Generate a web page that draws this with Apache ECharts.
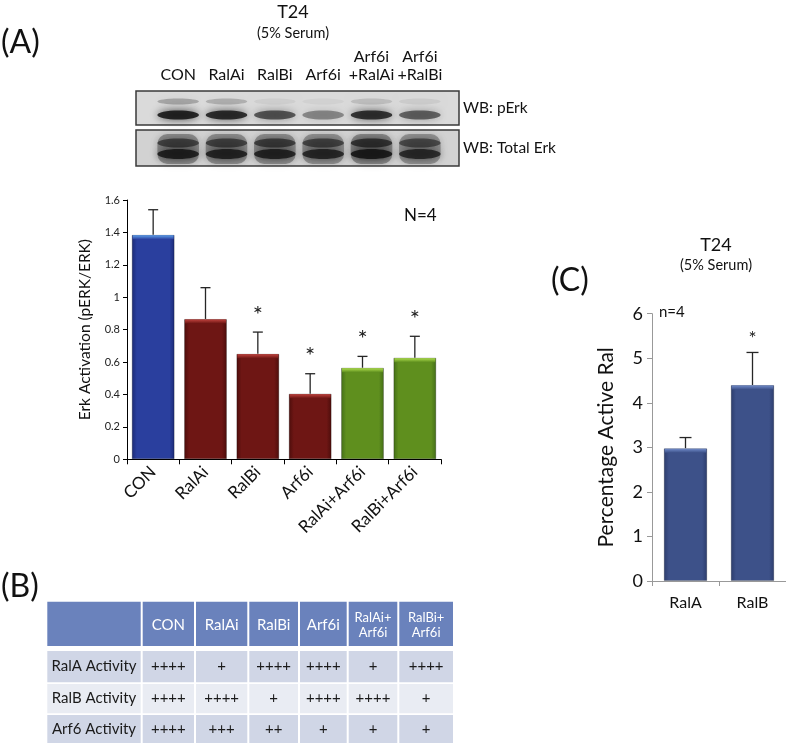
<!DOCTYPE html>
<html>
<head>
<meta charset="utf-8">
<script src="https://cdn.jsdelivr.net/npm/echarts@6/dist/echarts.min.js"></script>
<style>
html,body{margin:0;padding:0;background:#fff;}
#chart{width:786px;height:745px;}
</style>
</head>
<body>
<div id="chart"></div>
<script>
// ---------- DATA ----------
const blotLanes = ['CON', 'RalAi', 'RalBi', 'Arf6i', 'Arf6i\n+RalAi', 'Arf6i\n+RalBi'];
const pErkUpperBand = [0.55, 0.45, 0.12, 0.10, 0.30, 0.15];
const pErkLowerBand = [1.00, 0.95, 0.72, 0.45, 0.92, 0.65];
const totalErkUpperBand = [0.80, 0.80, 0.85, 0.80, 0.95, 0.75];
const totalErkLowerBand = [0.95, 0.92, 0.92, 0.88, 1.00, 0.86];

const catsA = ['CON', 'RalAi', 'RalBi', 'Arf6i', 'RalAi+Arf6i', 'RalBi+Arf6i'];
const erkMean = [1.385, 0.866, 0.651, 0.405, 0.565, 0.627];
const erkErrTop = [1.54, 1.059, 0.785, 0.528, 0.635, 0.759];
const erkSig = [false, false, true, true, true, true];
const erkGroup = ['blue', 'red', 'red', 'red', 'green', 'green'];
const yTicksA = [0, 0.2, 0.4, 0.6, 0.8, 1, 1.2, 1.4, 1.6];

const catsC = ['RalA', 'RalB'];
const ralMean = [2.98, 4.40];
const ralErrTop = [3.22, 5.13];
const ralSig = [false, true];
const yTicksC = [0, 1, 2, 3, 4, 5, 6];

const tableHeader = ['', 'CON', 'RalAi', 'RalBi', 'Arf6i', 'RalAi+\nArf6i', 'RalBi+\nArf6i'];
const tableRowNames = ['RalA Activity', 'RalB Activity', 'Arf6 Activity'];
const ralAActivity = ['++++', '+', '++++', '++++', '+', '++++'];
const ralBActivity = ['++++', '++++', '+', '++++', '++++', '+'];
const arf6Activity = ['++++', '+++', '++', '+', '+', '+'];

// ---------- STYLE ----------
const FONT = 'Lato, "Open Sans", "Noto Sans", sans-serif';
const palette = {
  blue:  {edge: '#1b2a76', mid: '#2a3f9e', hi: '#5e9ee8'},
  red:   {edge: '#4c0d0b', mid: '#6e1614', hi: '#c0423d'},
  green: {edge: '#436e18', mid: '#5f8f1e', hi: '#aede4e'},
  navy:  {edge: '#2c3c6c', mid: '#3d5189', hi: '#6f8ac8'}
};
function barGrad(p) {
  return {type: 'linear', x: 0, y: 0, x2: 1, y2: 0, colorStops: [
    {offset: 0, color: p.edge}, {offset: 0.12, color: p.mid},
    {offset: 0.88, color: p.mid}, {offset: 1, color: p.edge}]};
}

const chart = echarts.init(document.getElementById('chart'), null, {renderer: 'canvas'});

// blot band renderer
function renderBlot(params, api) {
  const i = api.value(0);
  const cs = params.coordSys;
  const cx = api.coord([i, 0])[0];
  const w = api.size([1, 0])[0];
  const rx = w * 0.43;
  const top = cs.y;
  const kids = [];
  const band = (cy, ry, a, blur) => ({
    type: 'ellipse',
    shape: {cx: cx, cy: cy, rx: rx, ry: ry},
    style: {fill: 'rgba(15,15,15,' + a + ')', shadowBlur: blur, shadowColor: 'rgba(15,15,15,' + a + ')'}
  });
  // total erk lane smear
  kids.push({type: 'rect', shape: {x: cx - rx, y: top + 43, width: rx * 2, height: 30, r: 10},
    style: {fill: 'rgba(40,40,40,' + (0.4 * api.value(4)) + ')', shadowBlur: 8, shadowColor: 'rgba(40,40,40,0.35)'}});
  kids.push(band(top + 10.5, 3, 0.45 * api.value(1), 7));
  kids.push(band(top + 24, 4.5, 0.85 * api.value(2), 8));
  kids.push(band(top + 52, 4.5, 0.7 * api.value(3), 8));
  kids.push(band(top + 63, 5, 0.85 * api.value(4), 8));
  return {type: 'group', children: kids};
}

function makeErr(groups, capW, hiH, starGap, starSize) {
  return function (params, api, ratio) {
    const i = api.value(0);
    const pMean = api.coord([i, api.value(1)]);
    const pTop = api.coord([i, api.value(2)]);
    const bw = api.size([1, 0])[0];
    const kids = [];
    const g = palette[groups[i]];
    const barW = bw * ratio;
    kids.push({type: 'rect', shape: {x: pMean[0] - barW / 2 + 1, y: pMean[1] + 0.5, width: barW - 2, height: hiH},
      style: {fill: {type: 'linear', x: 0, y: 0, x2: 0, y2: 1, colorStops: [
        {offset: 0, color: g.hi}, {offset: 1, color: g.mid}]}}, z2: 5});
    kids.push({type: 'line', shape: {x1: pMean[0], y1: pMean[1], x2: pTop[0], y2: pTop[1]},
      style: {stroke: '#262626', lineWidth: 1.3}});
    kids.push({type: 'line', shape: {x1: pTop[0] - capW / 2, y1: pTop[1], x2: pTop[0] + capW / 2, y2: pTop[1]},
      style: {stroke: '#262626', lineWidth: 1.3}});
    if (api.value(3)) {
      kids.push({type: 'text', style: {text: '*', x: pTop[0], y: pTop[1] - starGap, align: 'center', verticalAlign: 'middle',
        font: starSize + 'px ' + FONT, fill: '#222'}});
    }
    return {type: 'group', children: kids};
  };
}

const errAData = catsA.map((c, i) => [i, erkMean[i], erkErrTop[i], erkSig[i] ? 1 : 0]);
const errCData = catsC.map((c, i) => [i, ralMean[i], ralErrTop[i], ralSig[i] ? 1 : 0]);
const groupsC = catsC.map(() => 'navy');

const rendA = makeErr(erkGroup, 10, 4, 17, 24);
const rendC = makeErr(groupsC, 12, 4, 14, 19);

// ---------- TABLE (graphic) ----------
const colEdges = [47.3, 141.7, 195, 248.3, 299, 347.7, 398.3, 454];
const rowEdges = [[601.7, 646], [651, 682.3], [684, 713.3], [715, 743]];
const rowFills = ['#6a82bc', '#d0d6e6', '#e9ecf3', '#d0d6e6'];
const tableBody = [ralAActivity, ralBActivity, arf6Activity];
const tableGraphics = [];
for (let r = 0; r < 4; r++) {
  for (let c = 0; c < 7; c++) {
    const x0 = colEdges[c] + (c === 0 ? 0 : 1);
    const x1 = colEdges[c + 1] - 1;
    const y0 = rowEdges[r][0], y1 = rowEdges[r][1];
    tableGraphics.push({type: 'rect', shape: {x: x0, y: y0, width: x1 - x0, height: y1 - y0},
      style: {fill: rowFills[r]}, z: 1});
    let txt;
    if (r === 0) txt = tableHeader[c];
    else txt = c === 0 ? tableRowNames[r - 1] : tableBody[r - 1][c - 1];
    if (txt) {
      const multi = txt.indexOf('\n') >= 0;
      tableGraphics.push({type: 'text', z: 2, style: {
        text: txt, x: (x0 + x1) / 2, y: (y0 + y1) / 2 + (r === 0 ? 1 : 0), align: 'center', verticalAlign: 'middle',
        font: (multi ? 13 : 15) + 'px ' + FONT,
        fill: r === 0 ? '#ffffff' : '#1a1a1a', lineHeight: 15}});
    }
  }
}

const option = {
  backgroundColor: '#ffffff',
  animation: false,
  textStyle: {fontFamily: FONT},
  grid: [
    {left: 154, top: 91, width: 290, height: 75, containLabel: false},
    {left: 127, top: 200, width: 314, height: 259.3},
    {left: 652, top: 313.7, width: 134, height: 267.3}
  ],
  xAxis: [
    {gridIndex: 0, type: 'category', data: blotLanes, position: 'top',
      axisLine: {show: false}, axisTick: {show: false},
      axisLabel: {interval: 0, fontSize: 16, color: '#111', margin: 7, lineHeight: 18, fontFamily: FONT}},
    {gridIndex: 1, type: 'category', data: catsA,
      axisLine: {lineStyle: {color: '#000', width: 1}},
      axisTick: {show: true, length: 5, lineStyle: {color: '#000'}},
      axisLabel: {rotate: 45, fontSize: 17, color: '#111', margin: 10, fontFamily: FONT, interval: 0}},
    {gridIndex: 2, type: 'category', data: catsC,
      axisLine: {lineStyle: {color: '#999', width: 1}},
      axisTick: {show: true, length: 5, lineStyle: {color: '#999'}},
      axisLabel: {fontSize: 16, color: '#111', margin: 14, fontFamily: FONT}}
  ],
  yAxis: [
    {gridIndex: 0, type: 'value', min: 0, max: 1, show: false},
    {gridIndex: 1, type: 'value', min: yTicksA[0], max: yTicksA[yTicksA.length - 1], interval: 0.2,
      name: 'Erk Activation (pERK/ERK)', nameLocation: 'middle', nameRotate: 90, nameGap: 34,
      nameTextStyle: {fontSize: 15.5, color: '#111', fontFamily: FONT},
      axisLine: {show: true, lineStyle: {color: '#000', width: 1}},
      axisTick: {show: true, length: 4, lineStyle: {color: '#000'}},
      splitLine: {show: false},
      axisLabel: {fontSize: 11, color: '#222', margin: 7, fontFamily: FONT}},
    {gridIndex: 2, type: 'value', min: yTicksC[0], max: yTicksC[yTicksC.length - 1], interval: 1,
      name: 'Percentage Active Ral', nameLocation: 'middle', nameRotate: 90, nameGap: 35,
      nameTextStyle: {fontSize: 21, color: '#111', fontFamily: FONT},
      axisLine: {show: true, lineStyle: {color: '#999', width: 1}},
      axisTick: {show: true, length: 5, lineStyle: {color: '#999'}},
      splitLine: {show: false},
      axisLabel: {fontSize: 18, color: '#111', margin: 9, fontFamily: FONT}}
  ],
  series: [
    {type: 'custom', xAxisIndex: 0, yAxisIndex: 0, renderItem: renderBlot, z: 3,
      data: blotLanes.map((l, i) => [i, pErkUpperBand[i], pErkLowerBand[i], totalErkUpperBand[i], totalErkLowerBand[i]]),
      silent: true},
    {type: 'bar', xAxisIndex: 1, yAxisIndex: 1, barCategoryGap: '18%',
      data: erkMean.map((v, i) => ({value: v, itemStyle: {color: barGrad(palette[erkGroup[i]]),
        borderColor: 'rgba(0,0,0,0.25)', borderWidth: 1}})), z: 2},
    {type: 'custom', xAxisIndex: 1, yAxisIndex: 1, z: 4,
      renderItem: function (p, api) { return rendA(p, api, 0.82); },
      data: errAData, silent: true},
    {type: 'bar', xAxisIndex: 2, yAxisIndex: 2, barCategoryGap: '35%',
      data: ralMean.map(v => ({value: v, itemStyle: {color: barGrad(palette.navy),
        borderColor: 'rgba(0,0,0,0.2)', borderWidth: 1}})), z: 2},
    {type: 'custom', xAxisIndex: 2, yAxisIndex: 2, z: 4,
      renderItem: function (p, api) { return rendC(p, api, 0.65); },
      data: errCData, silent: true}
  ],
  graphic: [
    // blot boxes
    {type: 'rect', z: 0, shape: {x: 136, y: 91, width: 323, height: 34}, style: {fill: '#dadada'}},
    {type: 'rect', z: 0, shape: {x: 136, y: 130, width: 323, height: 36}, style: {fill: '#d2d2d2'}},
    {type: 'rect', z: 10, shape: {x: 136, y: 91, width: 323, height: 34}, style: {fill: 'none', stroke: '#3a3a3a', lineWidth: 1.5}},
    {type: 'rect', z: 10, shape: {x: 136, y: 130, width: 323, height: 36}, style: {fill: 'none', stroke: '#3a3a3a', lineWidth: 1.5}},
    {type: 'text', z: 10, style: {text: 'WB: pErk', x: 463, y: 108, verticalAlign: 'middle', font: '15.5px ' + FONT, fill: '#111'}},
    {type: 'text', z: 10, style: {text: 'WB: Total Erk', x: 463, y: 148, verticalAlign: 'middle', font: '15.5px ' + FONT, fill: '#111'}},
    // panel labels
    {type: 'text', z: 10, style: {text: '(A)', x: 1, y: 43, verticalAlign: 'middle', font: '32px ' + FONT, fill: '#111'}},
    {type: 'text', z: 10, style: {text: '(B)', x: 1, y: 587, verticalAlign: 'middle', font: '32px ' + FONT, fill: '#111'}},
    {type: 'text', z: 10, style: {text: '(C)', x: 551, y: 281, verticalAlign: 'middle', font: '32px ' + FONT, fill: '#111'}},
    // titles
    {type: 'text', z: 10, style: {text: 'T24', x: 293, y: 12, align: 'center', verticalAlign: 'middle', font: '18px ' + FONT, fill: '#111'}},
    {type: 'text', z: 10, style: {text: '(5% Serum)', x: 293, y: 33, align: 'center', verticalAlign: 'middle', font: '14.5px ' + FONT, fill: '#111'}},
    {type: 'text', z: 10, style: {text: 'T24', x: 716, y: 245, align: 'center', verticalAlign: 'middle', font: '18px ' + FONT, fill: '#111'}},
    {type: 'text', z: 10, style: {text: '(5% Serum)', x: 716, y: 265, align: 'center', verticalAlign: 'middle', font: '14.5px ' + FONT, fill: '#111'}},
    {type: 'text', z: 10, style: {text: 'N=4', x: 404, y: 216, verticalAlign: 'middle', font: '17px ' + FONT, fill: '#111'}},
    {type: 'text', z: 10, style: {text: 'n=4', x: 659, y: 312, verticalAlign: 'middle', font: '15px ' + FONT, fill: '#111'}}
  ].concat(tableGraphics)
};
chart.setOption(option);
</script>
</body>
</html>
